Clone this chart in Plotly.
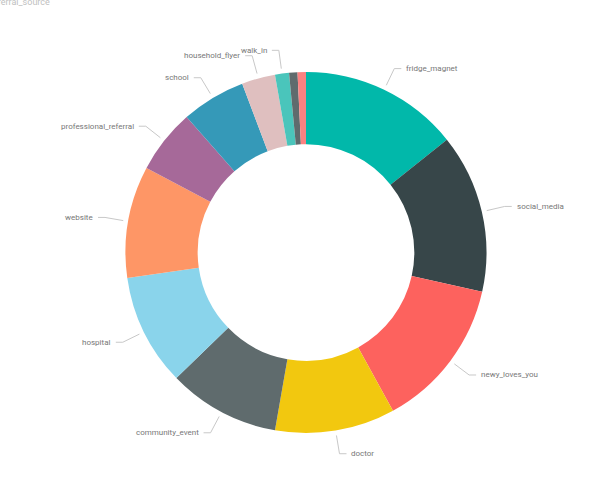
import math
import plotly.graph_objects as go

# ---- data ----
categories = ["fridge_magnet", "social_media", "newy_loves_you", "doctor",
              "community_event", "hospital", "website", "professional_referral",
              "school", "household_flyer", "walk_in", "other", "unknown"]
values = [57, 57, 54, 43, 40, 40, 40, 23, 23, 12, 5, 3, 3]
show_label = [True, True, True, True, True, True, True, True, True, True, True, False, False]
colors = ["#01B8AA", "#374649", "#FD625E", "#F2C80F", "#5F6B6D", "#8AD4EB",
          "#FE9666", "#A66999", "#3599B8", "#DFBFBF", "#4AC5BB", "#5F6B6D", "#FB8281"]
title_text = "referral_source"

# ---- layout geometry ----
W, H = 613, 491
cx, cy, R = 306.0, 252.5, 180.5
HOLE = 0.6

def px(x):
    return x / W

def py(y):
    return 1 - y / H

fig = go.Figure(go.Pie(
    labels=categories, values=values, hole=HOLE, sort=False,
    direction="clockwise", rotation=0,
    marker=dict(colors=colors, line=dict(width=0)),
    textinfo="none", showlegend=False, hoverinfo="label+value+percent",
    domain=dict(x=[px(cx - R), px(cx + R)], y=[py(cy + R), py(cy - R)]),
))

# ---- outside labels with leader lines (computed from values) ----
total = float(sum(values))
cum = 0.0
annotations = []
shapes = []
for name, v, show in zip(categories, values, show_label):
    mid = (cum + v / 2.0) / total * 2 * math.pi
    cum += v
    if not show:
        continue
    s, c = math.sin(mid), math.cos(mid)
    x0, y0 = cx + (R + 5) * s, cy - (R + 5) * c
    x1, y1 = cx + (R + 23.5) * s, cy - (R + 23.5) * c
    right = s >= 0
    x2 = x1 + (7 if right else -7)
    xt = x2 + (3 if right else -3)
    shapes.append(dict(
        type="path", xref="paper", yref="paper",
        path=f"M {px(x0)},{py(y0)} L {px(x1)},{py(y1)} L {px(x2)},{py(y1)}",
        line=dict(color="#C8C8C8", width=1),
    ))
    annotations.append(dict(
        x=px(xt), y=py(y1), xref="paper", yref="paper", text=name,
        showarrow=False, xanchor="left" if right else "right", yanchor="middle",
        font=dict(family="Roboto", size=8, color="#777777"),
    ))

annotations.append(dict(
    x=px(-12), y=py(2), xref="paper", yref="paper", text=title_text,
    showarrow=False, xanchor="left", yanchor="middle",
    font=dict(family="Roboto", size=9, color="#C0C0C0"),
))

fig.update_layout(
    width=W, height=H, margin=dict(l=0, r=0, t=0, b=0),
    paper_bgcolor="white", plot_bgcolor="white",
    annotations=annotations, shapes=shapes,
)

fig.write_html("out.html")
